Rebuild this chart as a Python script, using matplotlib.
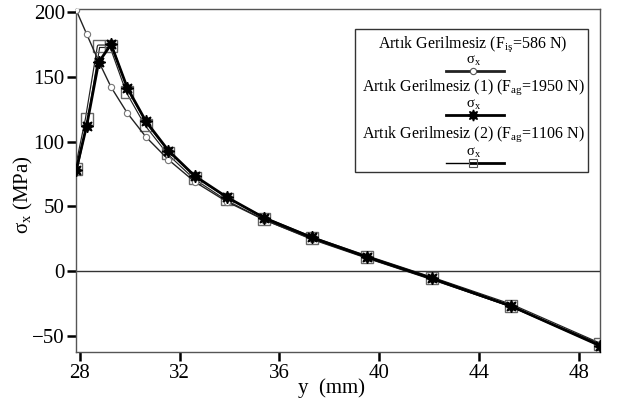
import matplotlib
matplotlib.use("Agg")
import matplotlib.pyplot as plt
from matplotlib.patches import Rectangle
from matplotlib.lines import Line2D

plt.rcParams['font.family'] = ['Liberation Serif', 'DejaVu Serif']
plt.rcParams['mathtext.fontset'] = 'custom'
plt.rcParams['mathtext.rm'] = 'Liberation Serif'
plt.rcParams['mathtext.it'] = 'Liberation Serif:italic'
plt.rcParams['mathtext.bf'] = 'Liberation Serif:bold'

# Data
y_mm = [27.85, 28.27, 28.75, 29.25, 29.9, 30.65, 31.55, 32.6, 33.9, 35.4, 37.3, 39.5, 42.1, 45.3, 48.85]
s_ref = [201.5, 183, 162, 142, 122, 103.5, 86, 69, 53.5, 39.5, 25, 10.5, -6, -27.5, -56]
s_ag1 = [78, 112, 161, 175, 141.5, 115.5, 93, 73.5, 57, 41, 26, 11, -5.5, -27, -57.5]
s_ag2 = [78.5, 117.5, 173.5, 173.5, 138.5, 113, 91, 72, 55.5, 40.5, 25.5, 11, -5.5, -26.5, -56.5]

labels = ["Artık Gerilmesiz (F$_{\\mathrm{iş}}$=586 N)",
          "Artık Gerilmesiz (1) (F$_{\\mathrm{ag}}$=1950 N)",
          "Artık Gerilmesiz (2) (F$_{\\mathrm{ag}}$=1106 N)"]
xticks = [28, 32, 36, 40, 44, 48]
yticks = [-50, 0, 50, 100, 150, 200]

fig = plt.figure(figsize=(6.22, 4.05), dpi=100)
ax = fig.add_axes([0.122, 0.132, 0.843, 0.845])

# series 1: thin line, small open circles
ax.plot(y_mm, s_ref, color='#222222', lw=1.0, marker='o', ms=4.5,
        mfc='white', mec='#777777', mew=0.8, zorder=3)
# series 3: outlined (double) line with open squares
ax.plot(y_mm, s_ag2, color='#222222', lw=2.6, zorder=2)
ax.plot(y_mm, s_ag2, color='white', lw=0.9, zorder=2.1)
ax.plot(y_mm, s_ag2, ls='none', marker='s', ms=9, mfc='none',
        mec='#666666', mew=1.0, zorder=2.2)
# series 2: thick line with 8-pointed stars
ax.plot(y_mm, s_ag1, color='black', lw=2.0, marker=(8, 1, 0), ms=9,
        mfc='black', mec='black', zorder=4)

ax.axhline(0, color='#333333', lw=1.0, zorder=1)

ax.set_xlim(27.84, 48.86)
ax.set_ylim(-62, 202)
ax.set_xticks(xticks)
ax.set_yticks(yticks)
ax.set_yticklabels(['\u221250', '0', '50', '100', '150', '200'])
ax.tick_params(direction='out', length=6.5, width=1.8, labelsize=15, pad=1.5, color='black')
ax.tick_params(axis='x', pad=2.5)
for sp in ax.spines.values():
    sp.set_color('#555555')
    sp.set_linewidth(1.0)

ax.set_xlabel('y  (mm)', fontsize=15)
ax.xaxis.set_label_coords(0.487, -0.078)
ax.set_ylabel('σ$_{\\mathrm{x}}$ (MPa)', fontsize=15)
ax.yaxis.set_label_coords(-0.078, 0.46)

# Manual legend in axes coordinates
W, H = 524.0, 342.4
x0, y0 = 76.0, 9.3
def ax_xy(px, py):
    return ((px - x0) / W, 1 - (py - y0) / H)

bx0, by0 = ax_xy(355, 172.3)
bx1, by1 = ax_xy(588, 29)
ax.add_patch(Rectangle((bx0, by0), bx1 - bx0, by1 - by0, transform=ax.transAxes,
                       fc='white', ec='#333333', lw=1.0, zorder=5))
cx = (473 - x0) / W
title_base = [47.3, 90.5, 137.3]
sig_base = [63.5, 107.5, 156.0]
line_py = [70.7, 115, 162.7]
for i in range(3):
    _, ty = ax_xy(0, title_base[i])
    ax.text(cx, ty, labels[i], transform=ax.transAxes, ha='center', va='baseline',
            fontsize=11.5, zorder=6)
    _, sy = ax_xy(0, sig_base[i])
    ax.text(cx, sy, 'σ$_{\\mathrm{x}}$', transform=ax.transAxes, ha='center', va='baseline',
            fontsize=10.5, zorder=6)
    _, ly = ax_xy(0, line_py[i])
    lx0, _ = ax_xy(446, 0)
    lx1, _ = ax_xy(504, 0)
    if i == 0:
        ax.add_line(Line2D([lx0, lx1], [ly, ly], transform=ax.transAxes, color='#222222',
                           lw=2.0, zorder=6))
        ax.add_line(Line2D([cx], [ly], transform=ax.transAxes, marker='o', ms=4.5,
                           mfc='white', mec='#555555', mew=0.8, zorder=7))
    elif i == 1:
        ax.add_line(Line2D([lx0, lx1], [ly, ly], transform=ax.transAxes, color='black',
                           lw=2.0, zorder=6))
        ax.add_line(Line2D([cx], [ly], transform=ax.transAxes, marker=(8, 1, 0), ms=8,
                           mfc='black', mec='black', zorder=7))
    else:
        mx, _ = ax_xy(470, 0)
        ax.add_line(Line2D([lx0, mx], [ly, ly], transform=ax.transAxes, color='black',
                           lw=1.0, zorder=6))
        ax.add_line(Line2D([mx, lx1], [ly, ly], transform=ax.transAxes, color='black',
                           lw=2.0, zorder=6))
        ax.add_line(Line2D([cx], [ly], transform=ax.transAxes, marker='s', ms=6,
                           mfc='none', mec='#555555', mew=0.8, zorder=7))

fig.savefig('out.png', dpi=100)
